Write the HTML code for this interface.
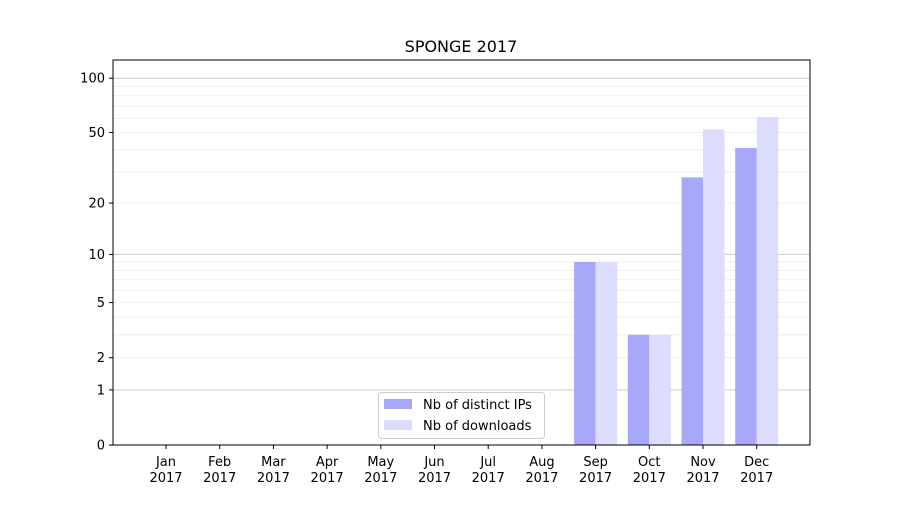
<!DOCTYPE html>
<html><head><meta charset="utf-8"><style>
body{margin:0;background:#fff;font-family:"Liberation Sans","DejaVu Sans",sans-serif}
</style></head><body>
<svg id="chart" width="900" height="500" xmlns="http://www.w3.org/2000/svg" font-family="DejaVu Sans, Liberation Sans, sans-serif">
<rect width="900" height="500" fill="#fff"/>
<text x="461" y="52" font-size="16" text-anchor="middle">SPONGE 2017</text>
<g id="grid"></g><g id="bars"></g><g id="axes"></g>
</svg>
<script>
const months=["Jan","Feb","Mar","Apr","May","Jun","Jul","Aug","Sep","Oct","Nov","Dec"];
const distinctIPs=[0,0,0,0,0,0,0,0,9,3,28,41];
const downloads=[0,0,0,0,0,0,0,0,9,3,52,61];
const yTicks=[0,1,2,5,10,20,50,100];
const NS="http://www.w3.org/2000/svg";
const L=113,R=810,T=60,B=445;
function y(v){return B-183*Math.log10(1+v);}
function xc(i){return 166+i*53.7;}
function mk(tag,attrs,parent){const e=document.createElementNS(NS,tag);for(const k in attrs)e.setAttribute(k,attrs[k]);parent.appendChild(e);return e;}
const grid=document.getElementById('grid'),bars=document.getElementById('bars'),axes=document.getElementById('axes');
const minor=[2,3,4,5,6,7,8,9,20,30,40,50,60,70,80,90];
minor.forEach(v=>{const l=mk('line',{x1:L,x2:R,y1:y(v),y2:y(v),stroke:'#ebebeb','stroke-width':0.8},grid);

});
[1,10,100].forEach(v=>{const l=mk('line',{x1:L,x2:R,y1:y(v),y2:y(v),stroke:'#cccccc','stroke-width':1},grid);

});
months.forEach((m,i)=>{
 const c=xc(i);
 if(distinctIPs[i]>0){const r=mk('rect',{x:c-21.5,y:y(distinctIPs[i]),width:21.5,height:B-y(distinctIPs[i]),fill:'#a8a8f8'},bars);
 
 }
 if(downloads[i]>0){const r=mk('rect',{x:c,y:y(downloads[i]),width:21.5,height:B-y(downloads[i]),fill:'#dcdcfc'},bars);
 
 }
 mk('line',{x1:c,x2:c,y1:B,y2:B+4,stroke:'#000'},axes);
 const t=mk('text',{x:c,y:B+21,'font-size':13,'text-anchor':'middle'},axes);
 t.textContent=m;
 
 
 const t2=mk('text',{x:c,y:B+37,'font-size':13,'text-anchor':'middle'},axes);
 t2.textContent='2017';
 
 
});
yTicks.forEach(v=>{
 mk('line',{x1:L-4,x2:L,y1:y(v),y2:y(v),stroke:'#000'},axes);
 const t=mk('text',{x:L-8,y:y(v)+4.5,'font-size':13,'text-anchor':'end'},axes);
 t.textContent=v;
 
 
});
const frame=mk('rect',{x:L,y:T,width:R-L,height:B-T,fill:'none',stroke:'#000','stroke-width':1},axes);


const lg=mk('g',{},axes);


mk('rect',{x:378.5,y:392.5,width:166,height:46,rx:3,fill:'#fff','fill-opacity':0.8,stroke:'#ccc'},lg);
mk('rect',{x:384,y:399,width:28,height:10,fill:'#a8a8f8'},lg);
mk('rect',{x:384,y:420,width:28,height:10,fill:'#dcdcfc'},lg);
const l1=mk('text',{x:423,y:409,'font-size':13},lg);l1.textContent='Nb of distinct IPs';


const l2=mk('text',{x:423,y:430,'font-size':13},lg);l2.textContent='Nb of downloads';


</script>
</body></html>
